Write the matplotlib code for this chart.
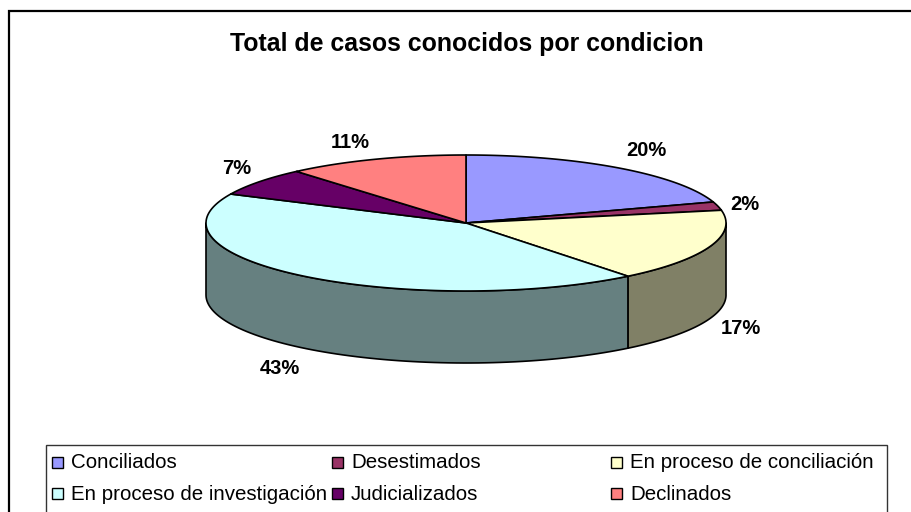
import numpy as np
import matplotlib
matplotlib.use('Agg')
import matplotlib.pyplot as plt
from matplotlib.patches import Polygon, Rectangle

plt.rcParams['font.family'] = ['Liberation Sans', 'DejaVu Sans']

# datos del grafico
categorias = ['Conciliados', 'Desestimados', 'En proceso de conciliación',
              'En proceso de investigación', 'Judicializados', 'Declinados']
valores = [20, 2, 17.3, 42.7, 6.7, 11.3]
etiquetas = ['20%', '2%', '17%', '43%', '7%', '11%']
colores = ['#9999FF', '#993366', '#FFFFCC', '#CCFFFF', '#660066', '#FF8080']
colores_lado = ['#66668A', '#66223F', '#808066', '#668080', '#330033', '#804040']

W, H = 911, 512
cx, cy, rx, ry, prof = 466, 223, 260, 68, 72

fig = plt.figure(figsize=(W / 100, H / 100), dpi=100)
ax = fig.add_axes([0, 0, 1, 1])
ax.set_xlim(0, W)
ax.set_ylim(H, 0)
ax.axis('off')

# marco exterior, se sale por la derecha y por abajo
ax.add_patch(Rectangle((8.5, 11), 950, 550, fc='white', ec='black', lw=1.6))

ax.text(466.5, 44, 'Total de casos conocidos por condicion', ha='center', va='center',
        fontsize=17.9, fontweight='bold', color='black')


def punto(ang):
    # angulo en grados desde arriba, sentido horario
    a = np.radians(ang)
    return cx + rx * np.sin(a), cy - ry * np.cos(a)


acum = np.cumsum([0] + valores) / sum(valores) * 360

# lados (solo la parte visible, entre 90 y 270 grados)
for i in range(len(valores)):
    ini, fin = max(acum[i], 90), min(acum[i + 1], 270)
    if fin <= ini:
        continue
    angs = np.linspace(ini, fin, 80)
    xs, ys = punto(angs)
    pts = list(zip(xs, ys)) + list(zip(xs[::-1], ys[::-1] + prof))
    ax.add_patch(Polygon(pts, closed=True, fc=colores_lado[i], ec='black', lw=1.2, joinstyle='round'))

# tapa
for i in range(len(valores)):
    angs = np.linspace(acum[i], acum[i + 1], 120)
    xs, ys = punto(angs)
    pts = [(cx, cy)] + list(zip(xs, ys))
    ax.add_patch(Polygon(pts, closed=True, fc=colores[i], ec='black', lw=1.2, joinstyle='round'))

# etiquetas de porcentaje
pos_etq = [(646, 150), (745, 204), (741, 329), (280, 368), (237, 169), (350, 142)]
for txt, (x, y) in zip(etiquetas, pos_etq):
    ax.text(x, y, txt, ha='center', va='center', fontsize=14.5, fontweight='bold', color='black')

# leyenda
ax.add_patch(Rectangle((46, 445), 841, 90, fc='white', ec='#333333', lw=1.0))
col_x = [52, 332, 611]
fila_y = [463, 494]
orden = [(0, 0), (1, 0), (2, 0), (0, 1), (1, 1), (2, 1)]
for i, (c, f) in enumerate(orden):
    x0 = col_x[c]
    ax.add_patch(Rectangle((x0, fila_y[f] - 6), 11, 11, fc=colores[i], ec='black', lw=1.0))
    ax.text(x0 + 19, fila_y[f], categorias[i], ha='left', va='center', fontsize=14.75, color='black')

fig.savefig('out.png', dpi=100)
